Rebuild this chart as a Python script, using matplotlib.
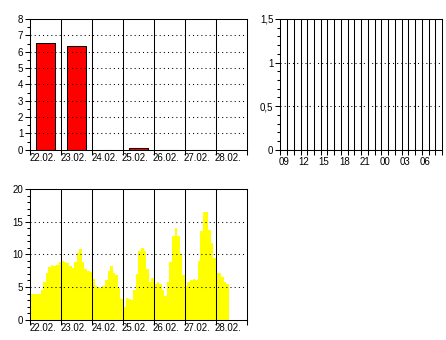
import matplotlib
matplotlib.use("Agg")
import matplotlib.pyplot as plt
import numpy as np
from matplotlib.ticker import MultipleLocator, FixedLocator, FuncFormatter

plt.rcParams['font.family'] = ['Liberation Sans', 'DejaVu Sans']
plt.rcParams['font.size'] = 7

# ---- data ----
day_labels = ["22.02.", "23.02.", "24.02.", "25.02.", "26.02.", "27.02.", "28.02."]
daily_values = [6.52, 6.33, 0.0, 0.1, 0.0, 0.0, 0.0]

hour_labels = ["09", "12", "15", "18", "21", "00", "03", "06"]
hourly_values = [0.0] * 24

# 2-hourly values starting 22.02. 00:00
series_22 = [4.0, 4.0, 4.0, 4.0, 4.5, 5.8, 7.2, 8.0, 8.4, 8.2, 8.4, 8.8]
series_23 = [9.0, 8.8, 8.6, 8.2, 7.9, 8.8, 10.2, 10.8, 8.8, 7.8, 7.5, 7.3]
series_24 = [6.3, 5.2, 5.0, 4.8, 5.1, 6.0, 7.5, 8.2, 7.2, 6.8, 4.8, 3.2]
series_25 = [2.0, 3.3, 3.2, 3.0, 4.5, 7.0, 10.5, 11.0, 10.5, 7.8, 5.8, 6.4]
series_26 = [5.5, 5.7, 5.5, 4.5, 3.6, 5.8, 8.8, 12.8, 14.1, 12.8, 10.0, 6.8]
series_27 = [5.2, 5.8, 6.0, 6.2, 6.0, 9.0, 13.5, 16.5, 16.5, 13.8, 11.8, 9.5]
series_28 = [7.2, 7.1, 6.5, 5.8, 5.4]
step_hours = 2

W, H = 446, 340
fig = plt.figure(figsize=(W / 100, H / 100), dpi=100)
fig.patch.set_facecolor('white')


def add_ax(l, t, r, b):
    return fig.add_axes([l / W, 1 - b / H, (r - l) / W, (b - t) / H])


dot = (0, (1, 3))
LW = 0.75


def style(ax):
    for s in ax.spines.values():
        s.set_linewidth(LW)
        s.set_color('black')
    ax.tick_params(which='both', direction='out', color='black', width=LW,
                   labelcolor='black', labelsize=7)
    ax.tick_params(which='major', length=3.5, pad=1.5)
    ax.tick_params(which='minor', length=2.5)
    ax.set_axisbelow(False)


# ---- top-left: daily bars ----
ax1 = add_ax(30.3, 19, 246.7, 149.7)
style(ax1)
xd = np.arange(len(daily_values)) + 0.5
ax1.bar(xd, daily_values, width=0.63, color='#ff0000', edgecolor='black',
        linewidth=LW, zorder=1)
ax1.set_xlim(0, 7)
ax1.set_ylim(0, 8)
ax1.yaxis.set_major_locator(MultipleLocator(1))
ax1.yaxis.set_minor_locator(MultipleLocator(0.5))
for v in range(1, 8):
    ax1.axhline(v, color='black', lw=LW, ls=dot, zorder=3)
ax1.xaxis.set_major_locator(MultipleLocator(1))
ax1.xaxis.set_major_formatter(FuncFormatter(lambda v, p: ""))
ax1.xaxis.set_minor_locator(FixedLocator(xd - 0.1))
ax1.set_xticklabels(day_labels, minor=True)
ax1.tick_params(axis='x', which='minor', length=0, pad=2.5)
for d in range(1, 7):
    ax1.axvline(d, color='black', lw=LW, zorder=3)

# ---- top-right: hourly bars ----
ax2 = add_ax(280.3, 19, 442, 149.7)
style(ax2)
xh = 9 + np.arange(len(hourly_values)) + 0.5
ax2.bar(xh, hourly_values, width=0.9, color='#ff0000', edgecolor='black',
        linewidth=LW, zorder=1)
ax2.set_xlim(9, 33)
ax2.set_ylim(0, 1.5)
ax2.yaxis.set_major_locator(FixedLocator([0, 0.5, 1, 1.5]))
ax2.set_yticklabels(["0", "0,5", "1", "1,5"])
ax2.yaxis.set_minor_locator(MultipleLocator(0.1))
for v in (0.5, 1.0):
    ax2.axhline(v, color='black', lw=LW, ls=dot, zorder=3)
ax2.xaxis.set_minor_locator(MultipleLocator(1))
ax2.tick_params(axis='x', which='minor', length=3.5)
ax2.xaxis.set_major_locator(FixedLocator(9.5 + 3 * np.arange(len(hour_labels))))
ax2.set_xticklabels(hour_labels)
ax2.tick_params(axis='x', which='major', length=0, pad=5)
for hh in range(10, 33):
    ax2.axvline(hh, color='black', lw=LW, zorder=3)

# ---- bottom: continuous series ----
ax3 = add_ax(30.3, 189, 246.7, 319.7)
style(ax3)
vals = np.array(series_22 + series_23 + series_24 + series_25 + series_26 + series_27 + series_28)
t = np.arange(len(vals) + 1) * step_hours / 24.0
ax3.fill_between(t, np.append(vals, vals[-1]), 0, step='post',
                 color='#ffff00', linewidth=0, zorder=1)
ax3.set_xlim(0, 7)
ax3.set_ylim(0, 20)
ax3.yaxis.set_major_locator(MultipleLocator(5))
ax3.yaxis.set_minor_locator(MultipleLocator(1))
for v in (5, 10, 15):
    ax3.axhline(v, color='black', lw=LW, ls=dot, zorder=3)
ax3.xaxis.set_major_locator(MultipleLocator(1))
ax3.xaxis.set_major_formatter(FuncFormatter(lambda v, p: ""))
ax3.xaxis.set_minor_locator(FixedLocator(xd - 0.1))
ax3.set_xticklabels(day_labels, minor=True)
ax3.tick_params(axis='x', which='minor', length=0, pad=2.5)
for d in range(1, 7):
    ax3.axvline(d, color='black', lw=LW, zorder=3)

fig.savefig("out.png", dpi=100, facecolor='white')
